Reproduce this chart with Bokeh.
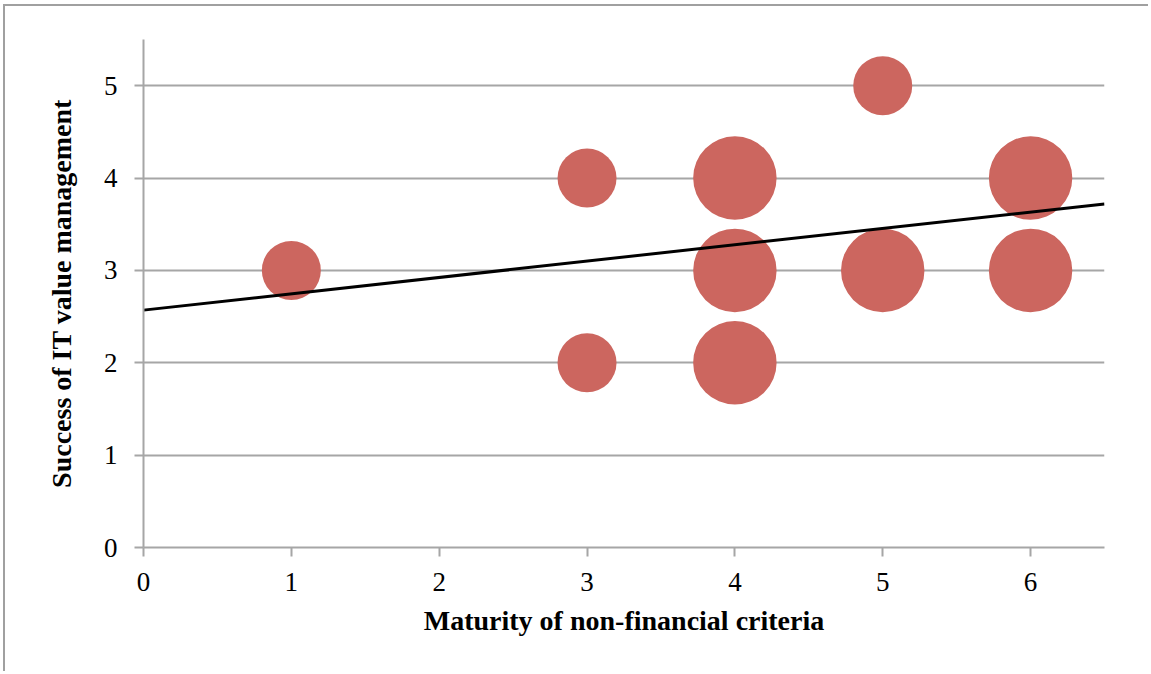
from bokeh.plotting import figure
from bokeh.models import Range1d, FixedTicker, ColumnDataSource
from bokeh.embed import file_html
from bokeh.resources import INLINE
import math

# Data
x_vals = [1, 3, 3, 4, 4, 4, 5, 5, 6, 6]
y_vals = [3, 4, 2, 4, 3, 2, 5, 3, 4, 3]
bubble_sizes = [1, 1, 1, 2, 2, 2, 1, 2, 2, 2]
trend_x = [0, 6.5]
trend_y = [2.57, 3.72]
x_ticks = [0, 1, 2, 3, 4, 5, 6]
y_ticks = [0, 1, 2, 3, 4, 5]

x_title = "Maturity of non-financial criteria"
y_title = "Success of IT value management"

FONT = "Liberation Serif"
GRAY = "#a6a6a6"

src = ColumnDataSource(dict(
    x=x_vals, y=y_vals,
    d=[59 * math.sqrt(s) for s in bubble_sizes],
))

p = figure(
    output_backend="svg", toolbar_location=None,
    x_range=Range1d(0, 6.5), y_range=Range1d(0, 5.5),
    frame_width=961, frame_height=508,
    min_border_left=138, min_border_right=44,
    min_border_top=33, min_border_bottom=124,
)
p.outline_line_color = None
p.background_fill_color = "white"
p.border_fill_color = "white"
p.styles = {"border-top": "2px solid #a0a0a0", "border-left": "2px solid #a0a0a0",
            "margin-left": "3px", "margin-top": "4px"}

p.xgrid.visible = False
p.ygrid.grid_line_color = GRAY
p.ygrid.grid_line_width = 2

p.xaxis.ticker = FixedTicker(ticks=x_ticks)
p.yaxis.ticker = FixedTicker(ticks=y_ticks)
for ax in (p.xaxis[0], p.yaxis[0]):
    ax.axis_line_color = GRAY
    ax.axis_line_width = 2
    ax.major_tick_line_color = GRAY
    ax.major_tick_line_width = 2
    ax.major_tick_out = 9
    ax.major_tick_in = 0
    ax.minor_tick_line_color = None
    ax.major_label_text_font = FONT
    ax.major_label_text_font_size = "27px"
    ax.major_label_text_color = "black"
    ax.axis_label_text_font = FONT
    ax.axis_label_text_font_size = "28px"
    ax.axis_label_text_font_style = "bold"
    ax.axis_label_text_color = "black"

p.xaxis.axis_label = x_title
p.yaxis.axis_label = y_title
p.xaxis.major_label_standoff = 16
p.yaxis.major_label_standoff = 17
p.xaxis.axis_label_standoff = 11
p.yaxis.axis_label_standoff = 24

p.scatter("x", "y", size="d", source=src, fill_color="#cc665f",
          line_color=None)
p.line(trend_x, trend_y, line_color="black", line_width=3)

open("out.html", "w").write(file_html(p, INLINE))
